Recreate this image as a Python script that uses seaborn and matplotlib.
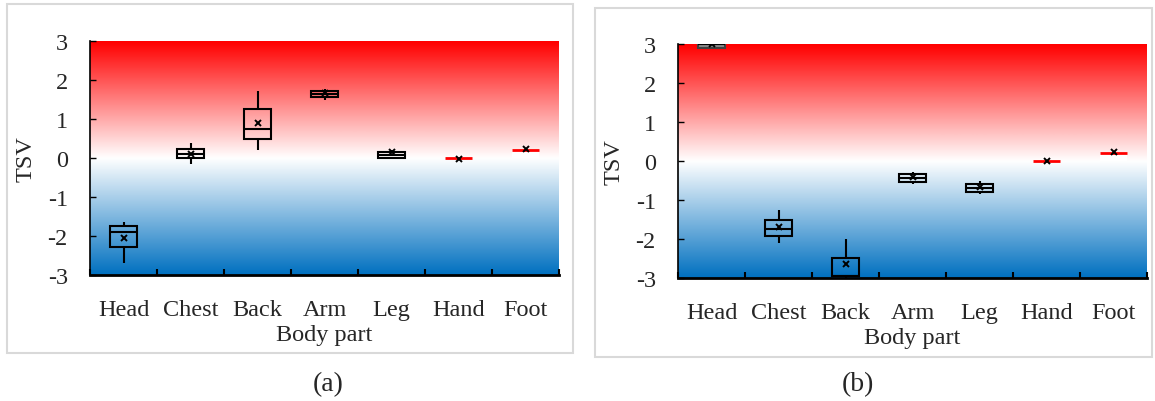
import numpy as np
import pandas as pd
import matplotlib
matplotlib.use("Agg")
import matplotlib.pyplot as plt
from matplotlib.colors import LinearSegmentedColormap
from matplotlib.patches import Rectangle
import seaborn as sns

#=====DATA=====
parts = ["Head", "Chest", "Back", "Arm", "Leg", "Hand", "Foot"]
red_parts = ["Hand", "Foot"]

# panel (a): lower whisker, Q1, median, Q3, upper whisker, mean
a_low = [-2.68, -0.15, 0.20, 1.50, -0.02, 0.00, 0.00]
a_q1 = [-2.29, -0.01, 0.48, 1.56, 0.00, 0.00, 0.00]
a_med = [-1.89, 0.09, 0.75, 1.64, 0.08, 0.00, 0.20]
a_q3 = [-1.75, 0.24, 1.25, 1.72, 0.16, 0.00, 0.20]
a_high = [-1.63, 0.38, 1.73, 1.77, 0.20, 0.00, 0.20]
a_mean = [-2.06, 0.10, 0.90, 1.66, 0.15, -0.02, 0.22]

# panel (b)
b_low = [2.90, -2.09, -3.00, -0.59, -0.85, 0.00, 0.00]
b_q1 = [2.90, -1.93, -2.95, -0.53, -0.79, 0.00, 0.00]
b_med = [3.00, -1.74, -2.95, -0.43, -0.68, 0.00, 0.21]
b_q3 = [3.00, -1.50, -2.48, -0.34, -0.59, 0.00, 0.21]
b_high = [3.00, -1.26, -2.01, -0.28, -0.52, 0.00, 0.21]
b_mean = [3.00, -1.69, -2.65, -0.40, -0.67, 0.00, 0.23]

yticks = [-3, -2, -1, 0, 1, 2, 3]

#=====STYLE=====
sns.set_style("white")
plt.rcParams["font.family"] = ["Liberation Serif", "DejaVu Serif"]
plt.rcParams["axes.unicode_minus"] = False
FS = 17.5

tsv_cmap = LinearSegmentedColormap.from_list("tsv", ["#0070C0", "#FFFFFF", "#FF0000"])
grad = np.linspace(0, 1, 256).reshape(-1, 1)


def long_form(low, q1, med, q3, high):
    rows = []
    for p, *vals in zip(parts, low, q1, med, q3, high):
        for v in vals:
            rows.append((p, v))
    return pd.DataFrame(rows, columns=["part", "TSV"])


def draw_panel(ax, df, means, grey_parts):
    plain = df[~df.part.isin(red_parts)]
    special = df[df.part.isin(red_parts)]
    sns.boxplot(data=plain, x="part", y="TSV", order=parts, whis=(0, 100), width=0.4,
                showcaps=False, fliersize=0, color="white", linecolor="black",
                linewidth=1.5, ax=ax)
    for patch, p in zip(list(ax.patches), [q for q in parts if q not in red_parts]):
        if p in grey_parts:
            patch.set_facecolor("#8a8a8a")
            patch.set_edgecolor("#404040")
        else:
            patch.set_facecolor("none")
    n_plain = len(ax.patches)
    sns.boxplot(data=special, x="part", y="TSV", order=parts, whis=(0, 100), width=0.4,
                showcaps=False, fliersize=0, color="white", linecolor="#9a9a9a",
                linewidth=1, medianprops=dict(color="red", linewidth=2), ax=ax)
    for patch in ax.patches[n_plain:]:
        patch.set_edgecolor("none")
    sns.pointplot(x=parts, y=means, order=parts, linestyle="none", marker="x",
                  color="black", markersize=5, markeredgewidth=1.4, errorbar=None,
                  zorder=6, ax=ax)
    ax.imshow(grad, extent=(-0.5, 6.5, -3, 3), aspect="auto", cmap=tsv_cmap,
              origin="lower", zorder=0)
    ax.set_xlim(-0.5, 6.5)
    ax.set_ylim(-3, 3)
    ax.set_xticks(range(len(parts)))
    ax.set_xticklabels(parts)
    ax.set_xticks(np.arange(-0.5, len(parts), 1), minor=True)
    ax.set_yticks(yticks)
    ax.set_yticklabels([str(t) for t in yticks])
    ax.tick_params(axis="x", which="major", length=0, pad=17, labelsize=FS)
    ax.tick_params(axis="x", which="minor", direction="in", length=4.5, width=1.5,
                   color="black", bottom=True)
    ax.tick_params(axis="y", direction="in", length=4.5, width=1, pad=16,
                   labelsize=FS, color="black", left=True)
    for s in ["top", "right"]:
        ax.spines[s].set_visible(False)
    ax.spines["left"].set_linewidth(1.2)
    ax.spines["left"].set_color("black")
    ax.spines["bottom"].set_linewidth(2)
    ax.spines["bottom"].set_color("black")
    ax.set_xlabel("Body part", fontsize=FS, labelpad=3)
    ax.set_ylabel("TSV", fontsize=FS)
    ax.yaxis.set_label_coords(-0.115, 0.5)


#=====FIGURE=====
W, H = 1155, 402
fig = plt.figure(figsize=(W / 100, H / 100), dpi=100)

ax_a = fig.add_axes([90 / W, 1 - 276 / H, 469 / W, 234 / H])
ax_b = fig.add_axes([678 / W, 1 - 279 / H, 469 / W, 234 / H])

draw_panel(ax_a, long_form(a_low, a_q1, a_med, a_q3, a_high), a_mean, [])
draw_panel(ax_b, long_form(b_low, b_q1, b_med, b_q3, b_high), b_mean, ["Head"])

# light grey frames round each panel
fig.patches.append(Rectangle((7 / W, 1 - 354 / H), 566 / W, 349 / H, transform=fig.transFigure,
                             fill=False, edgecolor="#d9d9d9", linewidth=1.5))
fig.patches.append(Rectangle((595 / W, 1 - 358 / H), 557 / W, 349 / H, transform=fig.transFigure,
                             fill=False, edgecolor="#d9d9d9", linewidth=1.5))

fig.text(328 / W, 1 - 385 / H, "(a)", ha="center", va="center", fontsize=20)
fig.text(858 / W, 1 - 385 / H, "(b)", ha="center", va="center", fontsize=20)

fig.savefig("out.png", dpi=100)
